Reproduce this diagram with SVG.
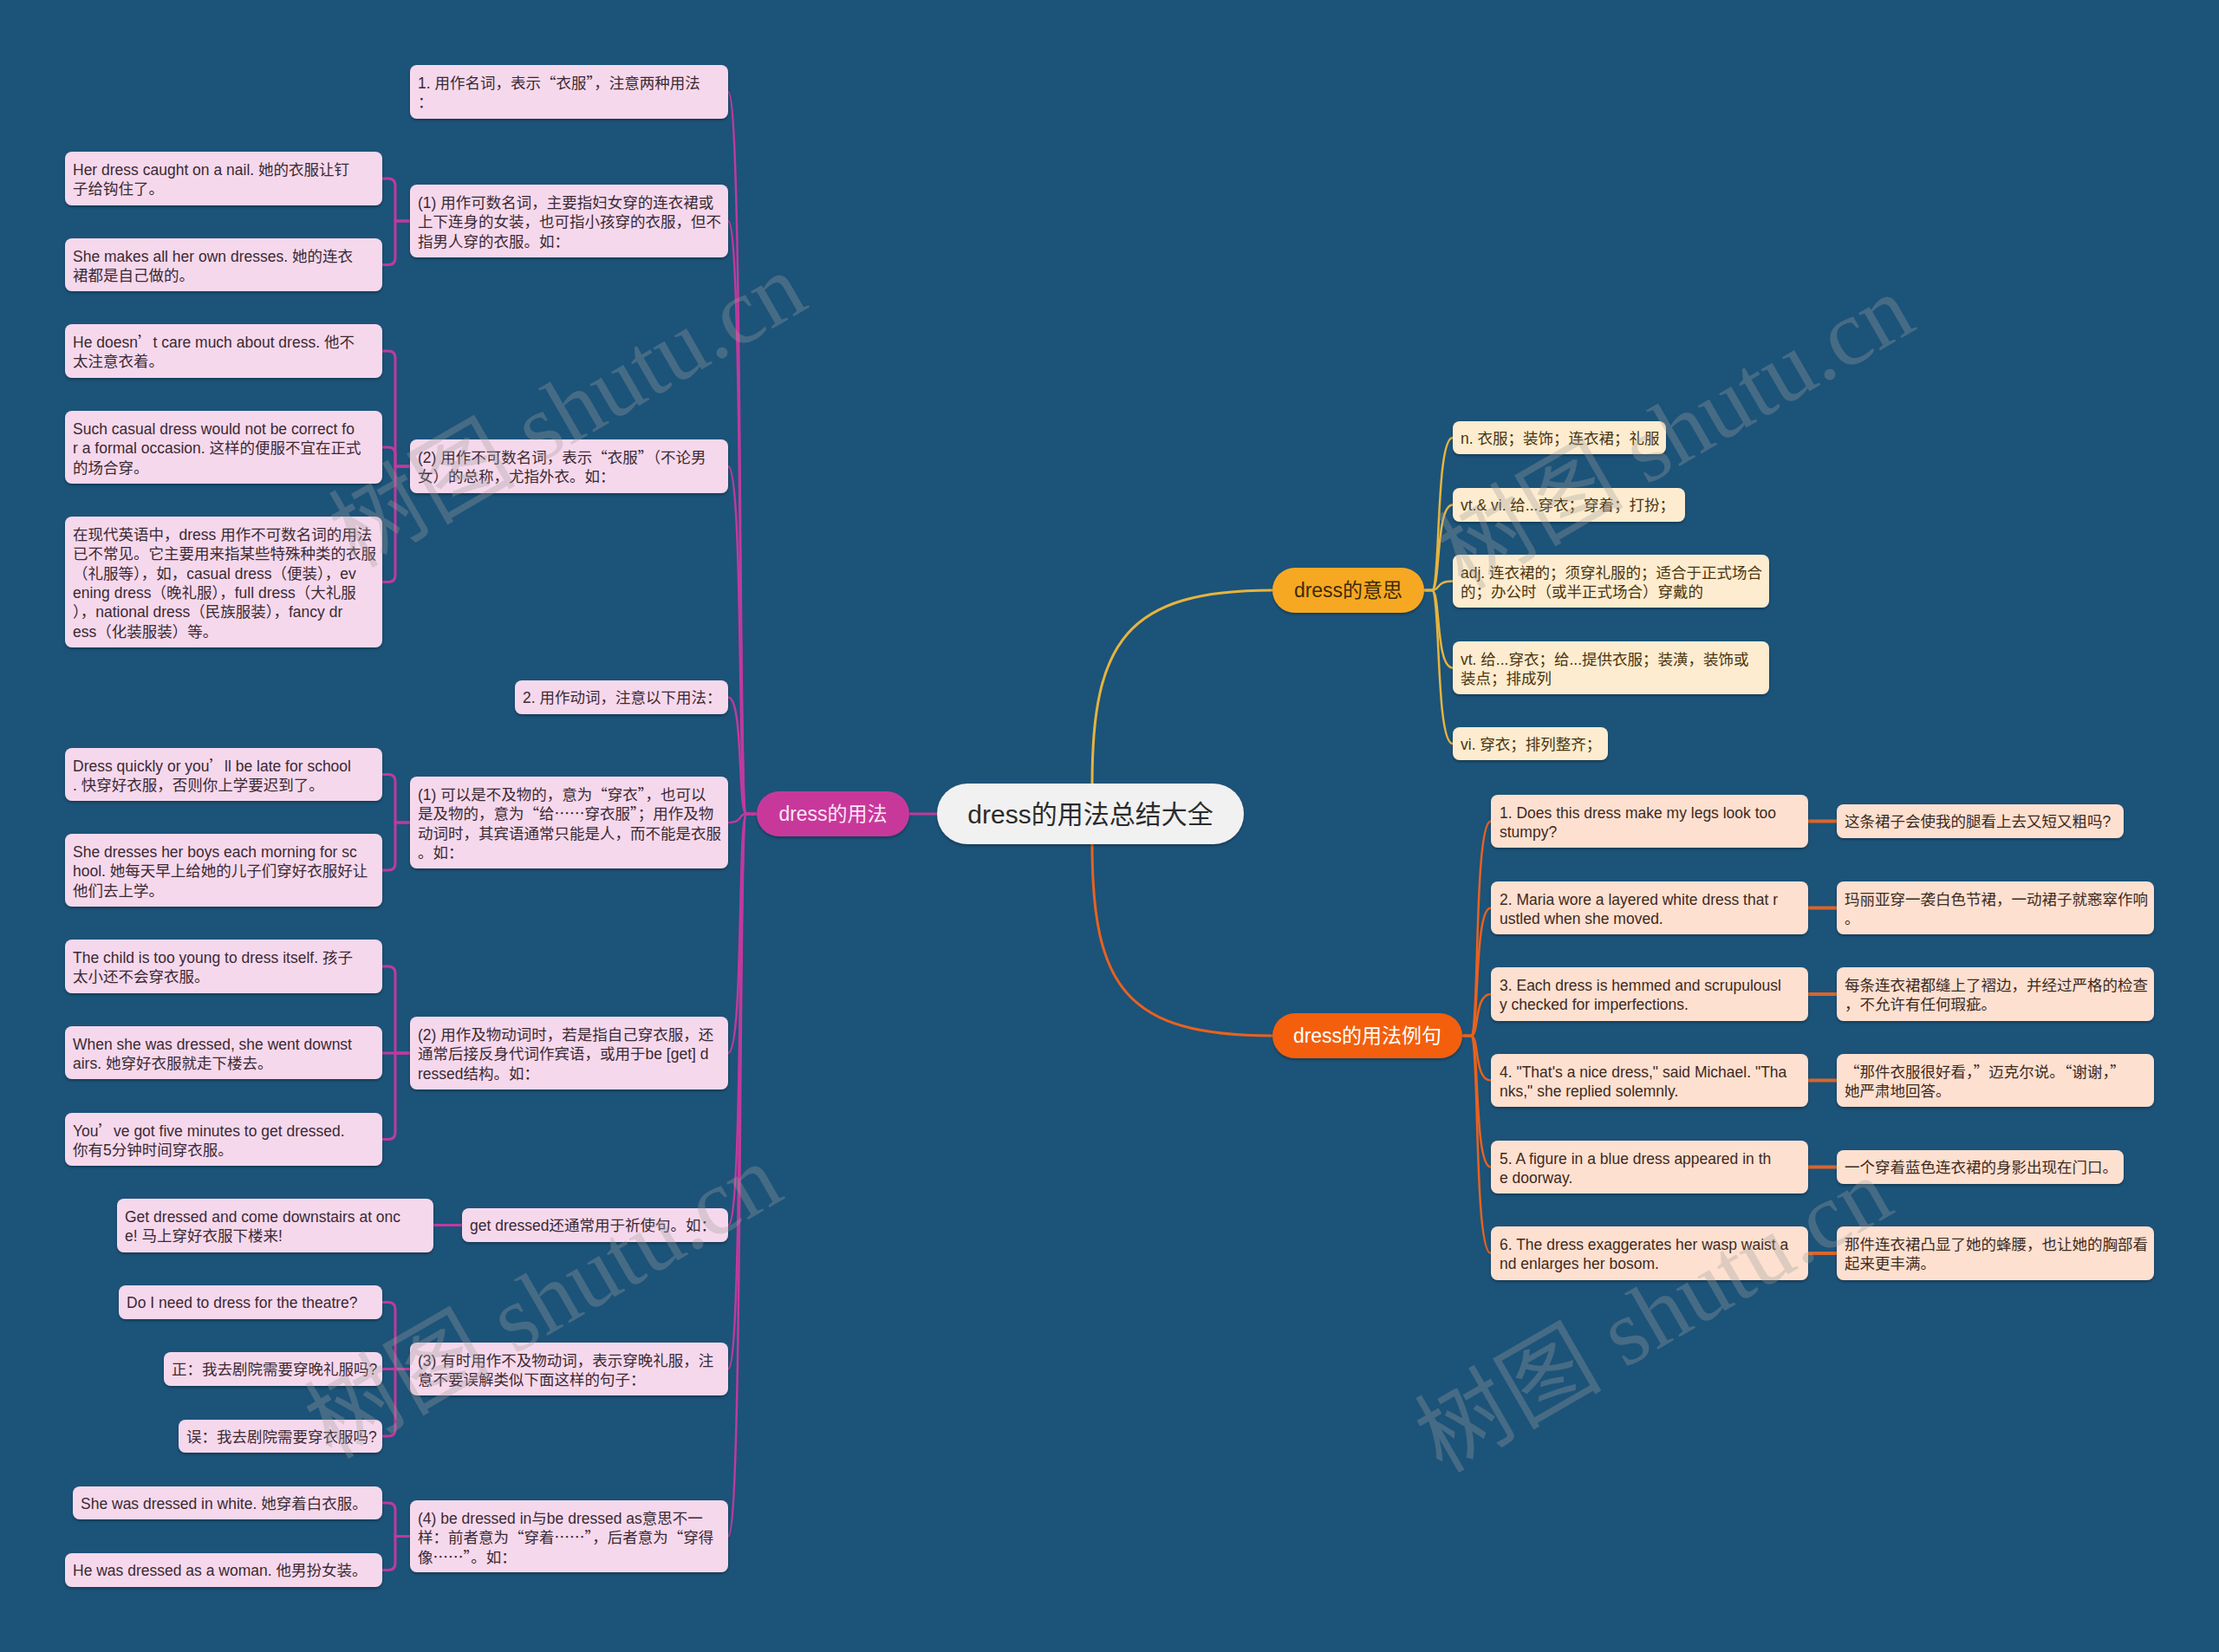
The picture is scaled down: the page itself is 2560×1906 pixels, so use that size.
<svg xmlns="http://www.w3.org/2000/svg" width="2560" height="1906" viewBox="0 0 2560 1906">
<defs>
<filter id="sh" x="-10%" y="-20%" width="120%" height="150%">
<feDropShadow dx="0" dy="2" stdDeviation="1.5" flood-color="#000" flood-opacity="0.3"/>
</filter>
<style>
text{font-family:"Liberation Sans","Noto Sans CJK SC",sans-serif;font-size:17.5px}
.q{font-family:"Noto Sans CJK SC",sans-serif}
.pk{fill:#f6d8ec;filter:url(#sh)}
.tp{fill:#3a2a33}
.ym{fill:#fdeccf;filter:url(#sh)}
.ty{fill:#4a3410}
.or{fill:#fde0d0;filter:url(#sh)}
.to{fill:#3d2a1e}
.lm{fill:none;stroke:#c03a9c;stroke-width:2.5}
.lb{fill:none;stroke:#c03a9c;stroke-width:3}
.ly{fill:none;stroke:#e6b43e;stroke-width:2.5}
.lo{fill:none;stroke:#e8621e;stroke-width:2.5}
.lx{fill:none;stroke:#d9652c;stroke-width:4}
.hd{font-size:23px;text-anchor:middle}
.wm{font-family:"Liberation Serif","Noto Sans CJK SC",serif;font-size:108px;fill:#a0a0a0;opacity:0.32}
</style>
</defs>
<rect width="2560" height="1906" fill="#1c5379"/>

<g id="connectors">
<path class="lb" d="M1081 939H1049"/>
<path class="ly" style="stroke-width:3" d="M1260 904C1260 740 1300 681 1468 681"/>
<path class="lo" style="stroke-width:3" d="M1260 974C1260 1140 1300 1195 1468 1195"/>
<path class="lm" d="M873 939H861C851 939 858 106 840 106"/>
<path class="lm" d="M873 939H861C851 939 858 255 840 255"/>
<path class="lm" d="M873 939H861C851 939 858 538 840 538"/>
<path class="lm" d="M873 939H861C851 939 858 804.5 840 804.5"/>
<path class="lm" d="M873 939H861C851 939 858 949 840 949"/>
<path class="lm" d="M873 939H861C851 939 858 1215 840 1215"/>
<path class="lm" d="M873 939H861C851 939 858 1413.5 840 1413.5"/>
<path class="lm" d="M873 939H861C851 939 858 1579.5 840 1579.5"/>
<path class="lm" d="M873 939H861C851 939 858 1772.5 840 1772.5"/>
<path class="lb" d="M473 255H456V214Q456 206 448 206H441"/>
<path class="lb" d="M473 255H456V297.5Q456 305.5 448 305.5H441"/>
<path class="lb" d="M473 538H456V413Q456 405 448 405H441"/>
<path class="lb" d="M473 538H456V524Q456 516 448 516H441"/>
<path class="lb" d="M473 538H456V663.5Q456 671.5 448 671.5H441"/>
<path class="lb" d="M473 949H456V901.5Q456 893.5 448 893.5H441"/>
<path class="lb" d="M473 949H456V996Q456 1004 448 1004H441"/>
<path class="lb" d="M473 1215H456V1123Q456 1115 448 1115H441"/>
<path class="lb" d="M473 1215H441"/>
<path class="lb" d="M473 1215H456V1306.5Q456 1314.5 448 1314.5H441"/>
<path class="lb" d="M533 1413.5H500"/>
<path class="lb" d="M473 1579.5H456V1510.5Q456 1502.5 448 1502.5H441"/>
<path class="lb" d="M473 1579.5H441"/>
<path class="lb" d="M473 1579.5H456V1649Q456 1657 448 1657H441"/>
<path class="lb" d="M473 1772.5H456V1742Q456 1734 448 1734H441"/>
<path class="lb" d="M473 1772.5H456V1803.5Q456 1811.5 448 1811.5H441"/>
<path class="ly" d="M1643 681H1652C1662 681 1656 505 1676 505"/>
<path class="ly" d="M1643 681H1652C1662 681 1656 582.5 1676 582.5"/>
<path class="ly" d="M1643 681H1652C1662 681 1656 670.5 1676 670.5"/>
<path class="ly" d="M1643 681H1652C1662 681 1656 770.5 1676 770.5"/>
<path class="ly" d="M1643 681H1652C1662 681 1656 858 1676 858"/>
<path class="lo" d="M1687 1195H1697C1707 1195 1700 947.5 1720 947.5"/>
<path class="lo" d="M1687 1195H1697C1707 1195 1700 1047.5 1720 1047.5"/>
<path class="lo" d="M1687 1195H1697C1707 1195 1700 1147 1720 1147"/>
<path class="lo" d="M1687 1195H1697C1707 1195 1700 1246.5 1720 1246.5"/>
<path class="lo" d="M1687 1195H1697C1707 1195 1700 1346.5 1720 1346.5"/>
<path class="lo" d="M1687 1195H1697C1707 1195 1700 1446 1720 1446"/>
<path class="lx" d="M2086 947.5H2119"/>
<path class="lx" d="M2086 1047.5H2119"/>
<path class="lx" d="M2086 1147H2119"/>
<path class="lx" d="M2086 1246.5H2119"/>
<path class="lx" d="M2086 1346.5H2119"/>
<path class="lx" d="M2086 1446H2119"/>
</g>

<g id="n-root"><rect x="1081" y="904" width="354" height="70" rx="35" fill="#f1f1f1" filter="url(#sh)"/><text x="1258" y="950" text-anchor="middle" style="font-size:30px" fill="#2b2b2b">dress的用法总结大全</text></g>
<g id="n-usage"><rect x="873" y="913" width="176" height="52" rx="26" fill="#c8399b" filter="url(#sh)"/><text class="hd" x="961" y="947" fill="#fbe6f4">dress的用法</text></g>
<g id="n-meaning"><rect x="1468" y="655" width="175" height="52" rx="26" fill="#f7a823" filter="url(#sh)"/><text class="hd" x="1555.5" y="689" fill="#3d2a08">dress的意思</text></g>
<g id="n-examples"><rect x="1468" y="1169" width="219" height="52" rx="26" fill="#f35f10" filter="url(#sh)"/><text class="hd" x="1577.5" y="1203" fill="#ffffff">dress的用法例句</text></g>

<g id="n-s1"><rect class="pk" x="473" y="75" width="367" height="62" rx="8"/><text class="tp" x="482" y="102">1. 用作名词，表示<tspan class="q">“</tspan>衣服<tspan class="q">”</tspan>，注意两种用法<tspan x="482" dy="22.3">：</tspan></text></g>
<g id="n-s2"><rect class="pk" x="473" y="213" width="367" height="84" rx="8"/><text class="tp" x="482" y="240">(1) 用作可数名词，主要指妇女穿的连衣裙或<tspan x="482" dy="22.3">上下连身的女装，也可指小孩穿的衣服，但不</tspan><tspan x="482" dy="22.3">指男人穿的衣服。如：</tspan></text></g>
<g id="n-s3"><rect class="pk" x="473" y="507" width="367" height="62" rx="8"/><text class="tp" x="482" y="534">(2) 用作不可数名词，表示<tspan class="q">“</tspan>衣服<tspan class="q">”</tspan>（不论男<tspan x="482" dy="22.3">女）的总称，尤指外衣。如：</tspan></text></g>
<g id="n-s4"><rect class="pk" x="594" y="785" width="246" height="39" rx="8"/><text class="tp" x="603" y="811">2. 用作动词，注意以下用法：</text></g>
<g id="n-s5"><rect class="pk" x="473" y="896" width="367" height="106" rx="8"/><text class="tp" x="482" y="923">(1) 可以是不及物的，意为<tspan class="q">“</tspan>穿衣<tspan class="q">”</tspan>，也可以<tspan x="482" dy="22.3">是及物的，意为<tspan class="q">“</tspan>给<tspan class="q">……</tspan>穿衣服<tspan class="q">”</tspan>；用作及物</tspan><tspan x="482" dy="22.3">动词时，其宾语通常只能是人，而不能是衣服</tspan><tspan x="482" dy="22.3">。如：</tspan></text></g>
<g id="n-s6"><rect class="pk" x="473" y="1173" width="367" height="84" rx="8"/><text class="tp" x="482" y="1200">(2) 用作及物动词时，若是指自己穿衣服，还<tspan x="482" dy="22.3">通常后接反身代词作宾语，或用于be [get] d</tspan><tspan x="482" dy="22.3">ressed结构。如：</tspan></text></g>
<g id="n-s7"><rect class="pk" x="533" y="1394" width="307" height="39" rx="8"/><text class="tp" x="542" y="1420">get dressed还通常用于祈使句。如：</text></g>
<g id="n-s8"><rect class="pk" x="473" y="1549" width="367" height="61" rx="8"/><text class="tp" x="482" y="1576">(3) 有时用作不及物动词，表示穿晚礼服，注<tspan x="482" dy="22.3">意不要误解类似下面这样的句子：</tspan></text></g>
<g id="n-s9"><rect class="pk" x="473" y="1731" width="367" height="83" rx="8"/><text class="tp" x="482" y="1758">(4) be dressed in与be dressed as意思不一<tspan x="482" dy="22.3">样：前者意为<tspan class="q">“</tspan>穿着<tspan class="q">……”</tspan>，后者意为<tspan class="q">“</tspan>穿得</tspan><tspan x="482" dy="22.3">像<tspan class="q">……”</tspan>。如：</tspan></text></g>

<g id="n-a1"><rect class="pk" x="75" y="175" width="366" height="62" rx="8"/><text class="tp" x="84" y="202">Her dress caught on a nail. 她的衣服让钉<tspan x="84" dy="22.3">子给钩住了。</tspan></text></g>
<g id="n-a2"><rect class="pk" x="75" y="275" width="366" height="61" rx="8"/><text class="tp" x="84" y="302">She makes all her own dresses. 她的连衣<tspan x="84" dy="22.3">裙都是自己做的。</tspan></text></g>
<g id="n-b1"><rect class="pk" x="75" y="374" width="366" height="62" rx="8"/><text class="tp" x="84" y="401">He doesn<tspan class="q">’</tspan>t care much about dress. 他不<tspan x="84" dy="22.3">太注意衣着。</tspan></text></g>
<g id="n-b2"><rect class="pk" x="75" y="474" width="366" height="84" rx="8"/><text class="tp" x="84" y="501">Such casual dress would not be correct fo<tspan x="84" dy="22.3">r a formal occasion. 这样的便服不宜在正式</tspan><tspan x="84" dy="22.3">的场合穿。</tspan></text></g>
<g id="n-b3"><rect class="pk" x="75" y="596" width="366" height="151" rx="8"/><text class="tp" x="84" y="623">在现代英语中，dress 用作不可数名词的用法<tspan x="84" dy="22.3">已不常见。它主要用来指某些特殊种类的衣服</tspan><tspan x="84" dy="22.3">（礼服等），如，casual dress（便装），ev</tspan><tspan x="84" dy="22.3">ening dress（晚礼服），full dress（大礼服</tspan><tspan x="84" dy="22.3">），national dress（民族服装），fancy dr</tspan><tspan x="84" dy="22.3">ess（化装服装）等。</tspan></text></g>
<g id="n-c1"><rect class="pk" x="75" y="863" width="366" height="61" rx="8"/><text class="tp" x="84" y="890">Dress quickly or you<tspan class="q">’</tspan>ll be late for school<tspan x="84" dy="22.3">. 快穿好衣服，否则你上学要迟到了。</tspan></text></g>
<g id="n-c2"><rect class="pk" x="75" y="962" width="366" height="84" rx="8"/><text class="tp" x="84" y="989">She dresses her boys each morning for sc<tspan x="84" dy="22.3">hool. 她每天早上给她的儿子们穿好衣服好让</tspan><tspan x="84" dy="22.3">他们去上学。</tspan></text></g>
<g id="n-d1"><rect class="pk" x="75" y="1084" width="366" height="62" rx="8"/><text class="tp" x="84" y="1111">The child is too young to dress itself. 孩子<tspan x="84" dy="22.3">太小还不会穿衣服。</tspan></text></g>
<g id="n-d2"><rect class="pk" x="75" y="1184" width="366" height="61" rx="8"/><text class="tp" x="84" y="1211">When she was dressed, she went downst<tspan x="84" dy="22.3">airs. 她穿好衣服就走下楼去。</tspan></text></g>
<g id="n-d3"><rect class="pk" x="75" y="1284" width="366" height="61" rx="8"/><text class="tp" x="84" y="1311">You<tspan class="q">’</tspan>ve got five minutes to get dressed.<tspan x="84" dy="22.3">你有5分钟时间穿衣服。</tspan></text></g>
<g id="n-e1"><rect class="pk" x="135" y="1383" width="365" height="62" rx="8"/><text class="tp" x="144" y="1410">Get dressed and come downstairs at onc<tspan x="144" dy="22.3">e! 马上穿好衣服下楼来!</tspan></text></g>
<g id="n-f1"><rect class="pk" x="137" y="1483" width="304" height="39" rx="8"/><text class="tp" x="146" y="1509">Do I need to dress for the theatre?</text></g>
<g id="n-f2"><rect class="pk" x="189" y="1560" width="252" height="39" rx="8"/><text class="tp" x="198" y="1586">正：我去剧院需要穿晚礼服吗?</text></g>
<g id="n-f3"><rect class="pk" x="206" y="1638" width="235" height="38" rx="8"/><text class="tp" x="215" y="1664">误：我去剧院需要穿衣服吗?</text></g>
<g id="n-g1"><rect class="pk" x="84" y="1715" width="357" height="38" rx="8"/><text class="tp" x="93" y="1741">She was dressed in white. 她穿着白衣服。</text></g>
<g id="n-g2"><rect class="pk" x="75" y="1792" width="366" height="39" rx="8"/><text class="tp" x="84" y="1818">He was dressed as a woman. 他男扮女装。</text></g>

<g id="n-m1"><rect class="ym" x="1676" y="486" width="246" height="38" rx="8"/><text class="ty" x="1685" y="512">n. 衣服；装饰；连衣裙；礼服</text></g>
<g id="n-m2"><rect class="ym" x="1676" y="563" width="268" height="39" rx="8"/><text class="ty" x="1685" y="589">vt.&amp; vi. 给...穿衣；穿着；打扮；</text></g>
<g id="n-m3"><rect class="ym" x="1676" y="640" width="365" height="61" rx="8"/><text class="ty" x="1685" y="667">adj. 连衣裙的；须穿礼服的；适合于正式场合<tspan x="1685" dy="22.3">的；办公时（或半正式场合）穿戴的</tspan></text></g>
<g id="n-m4"><rect class="ym" x="1676" y="740" width="365" height="61" rx="8"/><text class="ty" x="1685" y="767">vt. 给...穿衣；给...提供衣服；装潢，装饰或<tspan x="1685" dy="22.3">装点；排成列</tspan></text></g>
<g id="n-m5"><rect class="ym" x="1676" y="839" width="179" height="38" rx="8"/><text class="ty" x="1685" y="865">vi. 穿衣；排列整齐；</text></g>

<g id="n-x1"><rect class="or" x="1720" y="917" width="366" height="61" rx="8"/><text class="to" x="1730" y="944">1. Does this dress make my legs look too<tspan x="1730" dy="22.3">stumpy?</tspan></text></g>
<g id="n-x2"><rect class="or" x="1720" y="1017" width="366" height="61" rx="8"/><text class="to" x="1730" y="1044">2. Maria wore a layered white dress that r<tspan x="1730" dy="22.3">ustled when she moved.</tspan></text></g>
<g id="n-x3"><rect class="or" x="1720" y="1116" width="366" height="62" rx="8"/><text class="to" x="1730" y="1143">3. Each dress is hemmed and scrupulousl<tspan x="1730" dy="22.3">y checked for imperfections.</tspan></text></g>
<g id="n-x4"><rect class="or" x="1720" y="1216" width="366" height="61" rx="8"/><text class="to" x="1730" y="1243">4. "That's a nice dress," said Michael. "Tha<tspan x="1730" dy="22.3">nks," she replied solemnly.</tspan></text></g>
<g id="n-x5"><rect class="or" x="1720" y="1316" width="366" height="61" rx="8"/><text class="to" x="1730" y="1343">5. A figure in a blue dress appeared in th<tspan x="1730" dy="22.3">e doorway.</tspan></text></g>
<g id="n-x6"><rect class="or" x="1720" y="1415" width="366" height="62" rx="8"/><text class="to" x="1730" y="1442">6. The dress exaggerates her wasp waist a<tspan x="1730" dy="22.3">nd enlarges her bosom.</tspan></text></g>
<g id="n-t1"><rect class="or" x="2119" y="928" width="331" height="39" rx="8"/><text class="to" x="2128" y="954">这条裙子会使我的腿看上去又短又粗吗?</text></g>
<g id="n-t2"><rect class="or" x="2119" y="1017" width="366" height="61" rx="8"/><text class="to" x="2128" y="1044">玛丽亚穿一袭白色节裙，一动裙子就窸窣作响<tspan x="2128" dy="22.3">。</tspan></text></g>
<g id="n-t3"><rect class="or" x="2119" y="1116" width="366" height="62" rx="8"/><text class="to" x="2128" y="1143">每条连衣裙都缝上了褶边，并经过严格的检查<tspan x="2128" dy="22.3">，不允许有任何瑕疵。</tspan></text></g>
<g id="n-t4"><rect class="or" x="2119" y="1216" width="366" height="61" rx="8"/><text class="to" x="2128" y="1243"><tspan class="q">“</tspan>那件衣服很好看，<tspan class="q">”</tspan>迈克尔说。<tspan class="q">“</tspan>谢谢，<tspan class="q">”</tspan><tspan x="2128" dy="22.3">她严肃地回答。</tspan></text></g>
<g id="n-t5"><rect class="or" x="2119" y="1327" width="331" height="39" rx="8"/><text class="to" x="2128" y="1353">一个穿着蓝色连衣裙的身影出现在门口。</text></g>
<g id="n-t6"><rect class="or" x="2119" y="1415" width="366" height="62" rx="8"/><text class="to" x="2128" y="1442">那件连衣裙凸显了她的蜂腰，也让她的胸部看<tspan x="2128" dy="22.3">起来更丰满。</tspan></text></g>

<g id="watermark" pointer-events="none">
<text class="wm" text-anchor="middle" transform="translate(673 505) rotate(-30)">树图 shutu.cn</text>
<text class="wm" text-anchor="middle" transform="translate(1951 530) rotate(-30)">树图 shutu.cn</text>
<text class="wm" text-anchor="middle" transform="translate(645 1533) rotate(-30)">树图 shutu.cn</text>
<text class="wm" text-anchor="middle" transform="translate(1926 1549) rotate(-30)">树图 shutu.cn</text>
</g>
</svg>
